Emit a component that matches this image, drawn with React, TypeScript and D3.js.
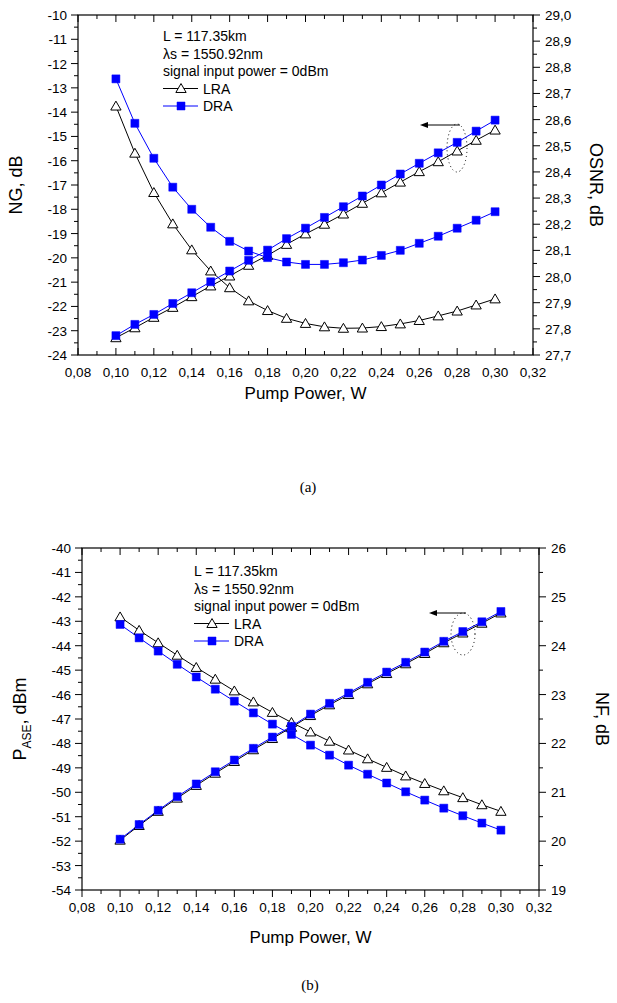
import * as d3 from 'd3'

// pump power, W
const pump = [0.10, 0.11, 0.12, 0.13, 0.14, 0.15, 0.16, 0.17, 0.18, 0.19, 0.20, 0.21, 0.22, 0.23, 0.24, 0.25, 0.26, 0.27, 0.28, 0.29, 0.30]

// (a) net gain, dB
const ngLRA = [-13.75, -15.69, -17.31, -18.6, -19.67, -20.54, -21.23, -21.77, -22.17, -22.49, -22.7, -22.84, -22.9, -22.89, -22.83, -22.72, -22.58, -22.39, -22.19, -21.94, -21.69]
const ngDRA = [-12.63, -14.46, -15.9, -17.09, -18.0, -18.74, -19.32, -19.72, -19.99, -20.17, -20.27, -20.27, -20.2, -20.09, -19.9, -19.69, -19.4, -19.11, -18.78, -18.45, -18.1]
// (a) OSNR, dB
const osnrLRA = [27.766, 27.804, 27.844, 27.882, 27.923, 27.964, 28.002, 28.043, 28.081, 28.123, 28.163, 28.2, 28.239, 28.28, 28.32, 28.361, 28.401, 28.439, 28.48, 28.521, 28.56]
const osnrDRA = [27.774, 27.817, 27.855, 27.897, 27.938, 27.98, 28.021, 28.062, 28.101, 28.145, 28.185, 28.226, 28.267, 28.308, 28.35, 28.392, 28.433, 28.473, 28.513, 28.556, 28.598]

// (b) ASE power, dBm
const aseLRA = [-42.82, -43.37, -43.88, -44.39, -44.89, -45.37, -45.85, -46.3, -46.73, -47.14, -47.53, -47.91, -48.27, -48.63, -48.98, -49.33, -49.64, -49.94, -50.22, -50.51, -50.78]
const aseDRA = [-43.13, -43.68, -44.22, -44.76, -45.28, -45.78, -46.27, -46.75, -47.21, -47.63, -48.07, -48.48, -48.89, -49.26, -49.62, -49.98, -50.32, -50.65, -50.96, -51.26, -51.55]
// (b) noise figure, dB
const nfLRA = [20.02, 20.32, 20.61, 20.88, 21.14, 21.39, 21.63, 21.87, 22.1, 22.33, 22.57, 22.79, 23.0, 23.22, 23.43, 23.63, 23.84, 24.06, 24.26, 24.46, 24.67]
const nfDRA = [20.04, 20.34, 20.63, 20.91, 21.17, 21.42, 21.66, 21.9, 22.13, 22.35, 22.6, 22.82, 23.03, 23.25, 23.46, 23.66, 23.87, 24.09, 24.29, 24.49, 24.7]

const legendLines = ['L = 117.35km', 'λs = 1550.92nm', 'signal input power = 0dBm']
const seriesNames = ['LRA', 'DRA']

const FONT = '"Liberation Sans", Arial, sans-serif'
const BLUE = '#0000ff'
const comma = (f) => (v) => f(v).replace('.', ',').replace('−', '-')

const tri = d3.symbol(d3.symbolTriangle, 46)()
const sq = d3.symbol(d3.symbolSquare, 64)()

function Marker({ kind, x, y }) {
    if (kind === 'tri')
        return <path d={tri} transform={`translate(${x},${y + 1})`} fill="white" stroke="black" strokeWidth={1} />
    return <path d={sq} transform={`translate(${x},${y})`} fill={BLUE} stroke={BLUE} strokeWidth={0.5} />
}

function Panel({ box, yL, yR, leftTicks, rightTicks, rightFmt, lra, dra, lraR, draR, leftTitle, rightTitle, legendY, legendX, arrow, ellipse, bottomIn, titleDy }) {
    const x = d3.scaleLinear().domain([0.08, 0.32]).range([box.x0, box.x1])
    const yl = d3.scaleLinear().domain(yL).range([box.y1, box.y0])
    const yr = d3.scaleLinear().domain(yR).range([box.y1, box.y0])

    const xMajor = d3.range(0, 13).map((i) => 0.08 + i * 0.02)
    const xMinor = d3.range(0, 12).map((i) => 0.09 + i * 0.02)
    const lMajor = d3.range(0, leftTicks.n + 1).map((i) => yL[0] + i * leftTicks.step)
    const lMinor = d3.range(0, leftTicks.n).map((i) => yL[0] + (i + 0.5) * leftTicks.step)
    const rMajor = d3.range(0, rightTicks.n + 1).map((i) => yR[0] + i * rightTicks.step)
    const rMinor = d3.range(0, rightTicks.n).map((i) => yR[0] + (i + 0.5) * rightTicks.step)

    const lineL = d3.line().x((d, i) => x(pump[i])).y((d) => yl(d))
    const lineR = d3.line().x((d, i) => x(pump[i])).y((d) => yr(d))

    const MJ = 7, MN = 4
    const bDir = bottomIn ? -1 : 1

    return (
        <g fontFamily={FONT}>
            {/* series */}
            <path d={lineL(lra)} fill="none" stroke="black" strokeWidth={1} />
            <path d={lineL(dra)} fill="none" stroke={BLUE} strokeWidth={1} />
            <path d={lineR(lraR)} fill="none" stroke="black" strokeWidth={1} />
            <path d={lineR(draR)} fill="none" stroke={BLUE} strokeWidth={1} />
            {lra.map((v, i) => <Marker key={'a' + i} kind="tri" x={x(pump[i])} y={yl(v)} />)}
            {lraR.map((v, i) => <Marker key={'b' + i} kind="tri" x={x(pump[i])} y={yr(v)} />)}
            {dra.map((v, i) => <Marker key={'c' + i} kind="sq" x={x(pump[i])} y={yl(v)} />)}
            {draR.map((v, i) => <Marker key={'d' + i} kind="sq" x={x(pump[i])} y={yr(v)} />)}

            {/* frame */}
            <rect x={box.x0} y={box.y0} width={box.x1 - box.x0} height={box.y1 - box.y0} fill="none" stroke="black" strokeWidth={1.2} />

            {/* x ticks, bottom and top */}
            {xMajor.map((t) => (
                <g key={'xm' + t}>
                    <line x1={x(t)} x2={x(t)} y1={box.y1} y2={box.y1 + bDir * MJ} stroke="black" />
                    <line x1={x(t)} x2={x(t)} y1={box.y0} y2={box.y0 + MJ} stroke="black" />
                    <text x={x(t)} y={box.y1 + 22} fontSize={13.5} textAnchor="middle">{comma(d3.format('.2f'))(t)}</text>
                </g>
            ))}
            {xMinor.map((t) => (
                <g key={'xn' + t}>
                    <line x1={x(t)} x2={x(t)} y1={box.y1} y2={box.y1 + bDir * MN} stroke="black" />
                    <line x1={x(t)} x2={x(t)} y1={box.y0} y2={box.y0 + MN} stroke="black" />
                </g>
            ))}

            {/* left ticks */}
            {lMajor.map((t) => (
                <g key={'lm' + t}>
                    <line x1={box.x0} x2={box.x0 - MJ} y1={yl(t)} y2={yl(t)} stroke="black" />
                    <text x={box.x0 - 11} y={yl(t) + 5} fontSize={13.5} textAnchor="end">{d3.format('d')(Math.round(t)).replace('−', '-')}</text>
                </g>
            ))}
            {lMinor.map((t) => <line key={'ln' + t} x1={box.x0} x2={box.x0 - MN} y1={yl(t)} y2={yl(t)} stroke="black" />)}

            {/* right ticks */}
            {rMajor.map((t) => (
                <g key={'rm' + t}>
                    <line x1={box.x1} x2={box.x1 + MJ} y1={yr(t)} y2={yr(t)} stroke="black" />
                    <text x={box.x1 + 12} y={yr(t) + 5} fontSize={13.5}>{rightFmt(t)}</text>
                </g>
            ))}
            {rMinor.map((t) => <line key={'rn' + t} x1={box.x1} x2={box.x1 + MN} y1={yr(t)} y2={yr(t)} stroke="black" />)}

            {/* titles */}
            <text x={(box.x0 + box.x1) / 2} y={box.y1 + titleDy} fontSize={17} textAnchor="middle">Pump Power, W</text>
            <text transform={`translate(${box.x0 - 56},${(box.y0 + box.y1) / 2}) rotate(-90)`} fontSize={18} textAnchor="middle">{leftTitle}</text>
            <text transform={`translate(${box.x1 + 57},${(box.y0 + box.y1) / 2}) rotate(90)`} fontSize={18} textAnchor="middle">{rightTitle}</text>

            {/* legend */}
            {legendLines.map((s, i) => (
                <text key={s} x={legendX} y={legendY + i * 17.5} fontSize={14}>{s}</text>
            ))}
            {seriesNames.map((s, i) => {
                const ly = legendY + (3 + i) * 17.5 - 5
                return (
                    <g key={s}>
                        <line x1={legendX} x2={legendX + 35} y1={ly} y2={ly} stroke={i === 0 ? 'black' : BLUE} />
                        <Marker kind={i === 0 ? 'tri' : 'sq'} x={legendX + 18} y={ly} />
                        <text x={legendX + 40} y={ly + 5} fontSize={14}>{s}</text>
                    </g>
                )
            })}

            {/* arrow to left axis and dotted ellipse */}
            <line x1={arrow.x1} x2={arrow.x2 + 6} y1={arrow.y} y2={arrow.y} stroke="black" />
            <path d={`M${arrow.x2},${arrow.y} l8,-3 l0,6 z`} fill="black" />
            <ellipse cx={ellipse.cx} cy={ellipse.cy} rx={ellipse.rx} ry={ellipse.ry} fill="none" stroke="black" strokeDasharray="1,3" />
        </g>
    )
}

export default function App() {
    return (
        <svg width={617} height={1003} style={{ position: 'absolute', left: 0, top: 0, background: 'white' }}>
            <rect width={617} height={1003} fill="white" />
            <Panel
                box={{ x0: 78, x1: 533, y0: 15, y1: 355 }}
                yL={[-24, -10]} yR={[27.7, 29.0]}
                leftTicks={{ n: 14, step: 1 }} rightTicks={{ n: 13, step: 0.1 }}
                rightFmt={comma(d3.format('.1f'))}
                lra={ngLRA} dra={ngDRA} lraR={osnrLRA} draR={osnrDRA}
                leftTitle="NG, dB" rightTitle="OSNR, dB"
                legendX={163} legendY={41}
                arrow={{ x1: 460, x2: 420, y: 125 }}
                ellipse={{ cx: 457, cy: 148, rx: 10, ry: 24 }}
                bottomIn={true}
                titleDy={44}
            />
            <text x={308} y={492} fontSize={15} fontFamily='"Liberation Serif", "Times New Roman", serif' textAnchor="middle">(a)</text>

            <Panel
                box={{ x0: 82, x1: 539, y0: 548, y1: 890 }}
                yL={[-54, -40]} yR={[19, 26]}
                leftTicks={{ n: 14, step: 1 }} rightTicks={{ n: 7, step: 1 }}
                rightFmt={(v) => String(Math.round(v))}
                lra={aseLRA} dra={aseDRA} lraR={nfLRA} draR={nfDRA}
                leftTitle={<>P<tspan fontSize={12} dy={5}>ASE</tspan><tspan dy={-5}>, dBm</tspan></>}
                rightTitle="NF, dB"
                legendX={194} legendY={576}
                arrow={{ x1: 466, x2: 429, y: 613 }}
                ellipse={{ cx: 463, cy: 634, rx: 12, ry: 21 }}
                bottomIn={false}
                titleDy={53}
            />
            <text x={310} y={990} fontSize={15} fontFamily='"Liberation Serif", "Times New Roman", serif' textAnchor="middle">(b)</text>
        </svg>
    )
}
